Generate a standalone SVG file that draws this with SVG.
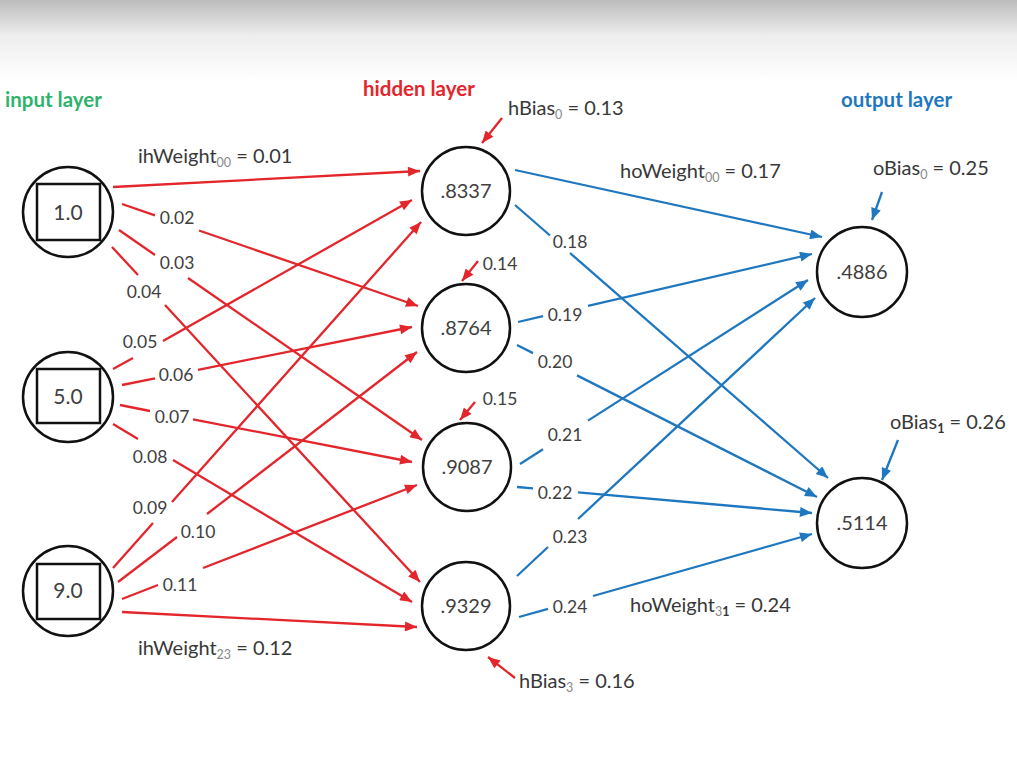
<svg xmlns="http://www.w3.org/2000/svg" width="1017" height="757" viewBox="0 0 1017 757">
<defs>
<linearGradient id="bg" x1="0" y1="0" x2="0" y2="1">
<stop offset="0" stop-color="#bcbcbc"/>
<stop offset="0.45" stop-color="#eeeeee"/>
<stop offset="1" stop-color="#ffffff"/>
</linearGradient>
<marker id="ar" viewBox="0 0 12 10" refX="12" refY="5" markerWidth="13" markerHeight="10" markerUnits="userSpaceOnUse" orient="auto"><path d="M0,0 L12,5 L0,10 Z" fill="#e3262c"/></marker>
<marker id="ab" viewBox="0 0 12 10" refX="12" refY="5" markerWidth="13" markerHeight="10" markerUnits="userSpaceOnUse" orient="auto"><path d="M0,0 L12,5 L0,10 Z" fill="#1f78bf"/></marker>
</defs>
<style>
.node{fill:#fff;stroke:#111;stroke-width:2.5}
.box{fill:none;stroke:#111;stroke-width:2.5}
.val{font-family:Lato,"Liberation Sans",sans-serif;font-size:20px;fill:#404040;text-anchor:middle}
.ival{font-family:Lato,"Liberation Sans",sans-serif;font-size:21px;fill:#404040;text-anchor:middle}
.r{fill:none;stroke:#e3262c;stroke-width:2.3;marker-end:url(#ar)}
.b{fill:none;stroke:#1f78bf;stroke-width:2.3;marker-end:url(#ab)}
.w{font-family:Lato,"Liberation Sans",sans-serif;font-size:17.5px;fill:#404040;text-anchor:middle}
.lbl{font-family:Lato,"Liberation Sans",sans-serif;font-size:20px;fill:#383838}
.sub{font-size:12.5px;fill:#888}
.subb{font-size:12.5px;font-weight:bold;fill:#333}
.title{font-family:Lato,"Liberation Sans",sans-serif;font-size:20.5px;font-weight:bold}
</style>
<rect x="0" y="0" width="1017" height="757" fill="#fff"/>
<rect x="0" y="0" width="1017" height="80" fill="url(#bg)"/>

<text class="title" x="5" y="107" fill="#2fb36c">input layer</text>
<text class="title" x="363" y="96" fill="#e3262c">hidden layer</text>
<text class="title" x="841" y="107" fill="#1f78bf">output layer</text>

<g id="connectors">
<path class="r" d="M113,187 L420,171"/>
<path class="r" d="M122,204 L155,215.4 M199,230.5 L418,306"/>
<path class="r" d="M119,230 L155,255 M188,278 L422,440"/>
<path class="r" d="M112,247 L138,275 M165,305 L420,582"/>
<path class="r" d="M113,369 L133,358 M163,341 L412,200"/>
<path class="r" d="M122,385 L155,378.4 M198,369.8 L412,327"/>
<path class="r" d="M120,405 L150,411 M193,419.3 L412,462"/>
<path class="r" d="M113,424 L138,439 M173,460 L412,602"/>
<path class="r" d="M113,568 L153,523 M172,502 L421,222"/>
<path class="r" d="M118,582 L177,537 M207,514 L417,352"/>
<path class="r" d="M122,599 L158,585 M203,568 L417,485"/>
<path class="r" d="M122,612 L417,627"/>

<path class="b" d="M515,170 L822,237"/>
<path class="b" d="M515,205 L550,235.5 M570,253 L828,478"/>
<path class="b" d="M518,322 L543,316.2 M588,305.8 L812,254"/>
<path class="b" d="M517,345 L533,353.1 M577,375.4 L817,497"/>
<path class="b" d="M520,464 L543,449.3 M588,420.6 L808,280"/>
<path class="b" d="M517,487 L533,488.4 M578,492.4 L812,513"/>
<path class="b" d="M517,576 L548,547 M578,519 L815,298"/>
<path class="b" d="M519,617 L548,608.8 M593,596 L812,534"/>

<path class="r" d="M502,118 L482,143"/>
<path class="r" d="M478,261 L462,281"/>
<path class="r" d="M475,402 L460,420"/>
<path class="r" d="M515,678 L488,657"/>
<path class="b" d="M882,192 L872,220"/>
<path class="b" d="M898,440 L882,480"/>
</g>

<g id="weight-labels">
<text class="w" x="177" y="224">0.02</text>
<text class="w" x="177" y="269">0.03</text>
<text class="w" x="144" y="298">0.04</text>
<text class="w" x="140" y="348">0.05</text>
<text class="w" x="176" y="381">0.06</text>
<text class="w" x="172" y="423">0.07</text>
<text class="w" x="150" y="463">0.08</text>
<text class="w" x="150" y="514">0.09</text>
<text class="w" x="198" y="538">0.10</text>
<text class="w" x="180" y="591">0.11</text>
<text class="w" x="570" y="248">0.18</text>
<text class="w" x="565" y="321">0.19</text>
<text class="w" x="555" y="368">0.20</text>
<text class="w" x="565" y="441">0.21</text>
<text class="w" x="555" y="499">0.22</text>
<text class="w" x="570" y="543">0.23</text>
<text class="w" x="570" y="613">0.24</text>
<text class="w" x="500" y="270">0.14</text>
<text class="w" x="500" y="405">0.15</text>
</g>

<g id="param-labels">
<text class="lbl" x="138" y="163">ihWeight<tspan class="sub" dy="4">00</tspan><tspan dy="-4"> = 0.01</tspan></text>
<text class="lbl" x="138" y="655">ihWeight<tspan class="sub" dy="4">23</tspan><tspan dy="-4"> = 0.12</tspan></text>
<text class="lbl" x="508" y="115">hBias<tspan class="sub" dy="4">0</tspan><tspan dy="-4"> = 0.13</tspan></text>
<text class="lbl" x="519" y="688">hBias<tspan class="sub" dy="4">3</tspan><tspan dy="-4"> = 0.16</tspan></text>
<text class="lbl" x="620" y="178">hoWeight<tspan class="sub" dy="4">00</tspan><tspan dy="-4"> = 0.17</tspan></text>
<text class="lbl" x="630" y="612">hoWeight<tspan class="sub" dy="4">3</tspan><tspan class="subb">1</tspan><tspan dy="-4"> = 0.24</tspan></text>
<text class="lbl" x="873" y="175">oBias<tspan class="sub" dy="4">0</tspan><tspan dy="-4"> = 0.25</tspan></text>
<text class="lbl" x="890" y="429">oBias<tspan class="subb" dy="4">1</tspan><tspan dy="-4"> = 0.26</tspan></text>
</g>

<g id="input0"><circle class="node" cx="68" cy="212" r="45"/><rect class="box" x="37" y="184" width="63" height="56"/><text class="ival" x="68" y="220">1.0</text></g>
<g id="input1"><circle class="node" cx="68" cy="397" r="45"/><rect class="box" x="37" y="369" width="63" height="54"/><text class="ival" x="68" y="404">5.0</text></g>
<g id="input2"><circle class="node" cx="68" cy="591" r="45"/><rect class="box" x="37" y="564" width="63" height="55"/><text class="ival" x="68" y="598">9.0</text></g>

<g id="hidden0"><circle class="node" cx="466" cy="191" r="44"/><text class="val" x="466" y="198">.8337</text></g>
<g id="hidden1"><circle class="node" cx="466" cy="328" r="44"/><text class="val" x="466" y="335">.8764</text></g>
<g id="hidden2"><circle class="node" cx="467" cy="467" r="44"/><text class="val" x="467" y="474">.9087</text></g>
<g id="hidden3"><circle class="node" cx="466" cy="606" r="44"/><text class="val" x="466" y="613">.9329</text></g>

<g id="output0"><circle class="node" cx="862" cy="272" r="45"/><text class="val" x="862" y="279">.4886</text></g>
<g id="output1"><circle class="node" cx="862" cy="523" r="45"/><text class="val" x="862" y="530">.5114</text></g>
</svg>
